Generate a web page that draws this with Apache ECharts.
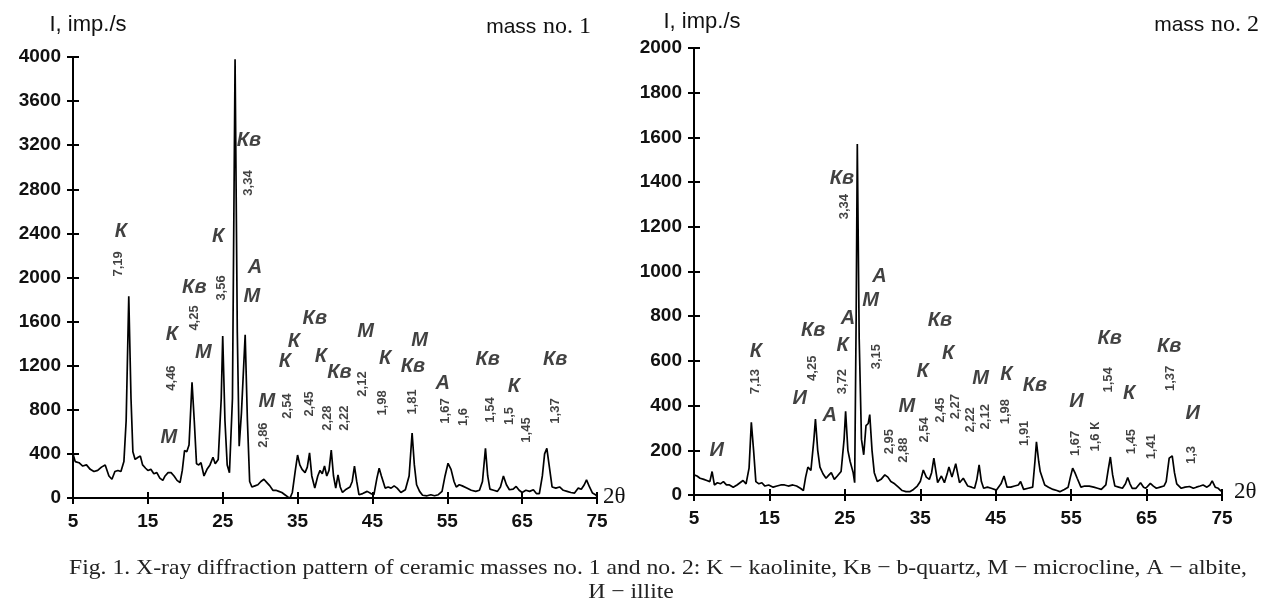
<!DOCTYPE html>
<html>
<head>
<meta charset="utf-8">
<script src="https://cdn.jsdelivr.net/npm/echarts@6/dist/echarts.min.js"></script>
<style>html,body{margin:0;padding:0;background:#fff;}#c{width:1262px;height:607px;}</style>
</head>
<body>
<div id="c"></div>
<script>
// ---- data ----
const xTicks = [5, 15, 25, 35, 45, 55, 65, 75];
const yTicks1 = [0, 400, 800, 1200, 1600, 2000, 2400, 2800, 3200, 3600, 4000];
const yTicks2 = [0, 200, 400, 600, 800, 1000, 1200, 1400, 1600, 1800, 2000];

const mass1 = [[5,400],[5.3,330],[5.8,320],[6.3,290],[6.8,300],[7.3,260],[7.8,240],[8.3,250],[8.8,280],[9.3,300],[9.8,200],[10.2,170],[10.6,240],[11.0,250],[11.4,240],[11.8,330],[12.1,700],[12.45,1830],[12.75,900],[13.0,420],[13.3,350],[13.7,370],[14.0,380],[14.3,300],[14.7,270],[15.0,250],[15.4,260],[15.8,220],[16.2,230],[16.6,180],[17.0,160],[17.3,200],[17.7,230],[18.1,230],[18.5,200],[18.9,160],[19.3,140],[19.6,250],[19.9,430],[20.2,420],[20.5,480],[20.9,1050],[21.2,700],[21.5,310],[21.8,300],[22.1,320],[22.5,200],[22.9,260],[23.3,300],[23.7,370],[24.0,310],[24.4,350],[24.8,900],[25.0,1470],[25.3,700],[25.6,300],[25.9,230],[26.3,900],[26.65,3980],[26.95,1500],[27.2,470],[27.5,770],[27.7,760],[28.0,1480],[28.3,700],[28.6,150],[28.9,100],[29.3,110],[29.7,120],[30.1,150],[30.5,170],[30.9,140],[31.3,110],[31.7,70],[32.1,70],[32.5,60],[32.9,50],[33.3,30],[33.7,10],[34.0,0],[34.3,50],[34.7,250],[35.0,390],[35.3,300],[35.6,260],[36.0,230],[36.3,280],[36.6,410],[36.9,200],[37.3,90],[37.7,200],[38.0,250],[38.3,220],[38.6,290],[38.9,200],[39.2,250],[39.5,435],[39.8,200],[40.1,90],[40.4,210],[40.7,100],[41.0,50],[41.5,80],[42.0,100],[42.3,150],[42.6,290],[42.9,150],[43.2,30],[43.7,40],[44.3,60],[44.8,40],[45.2,30],[45.6,180],[45.9,270],[46.2,200],[46.7,90],[47.1,100],[47.5,90],[47.9,110],[48.3,90],[48.8,50],[49.4,75],[49.9,200],[50.3,590],[50.6,300],[50.9,120],[51.3,60],[51.7,25],[52.3,20],[52.8,30],[53.3,20],[53.8,30],[54.3,60],[54.7,200],[55.1,315],[55.5,260],[55.9,150],[56.2,100],[56.6,120],[57.0,110],[57.6,90],[58.2,70],[58.8,60],[59.3,70],[59.7,150],[60.1,450],[60.4,200],[60.7,80],[61.2,70],[61.7,60],[62.1,100],[62.5,200],[62.9,120],[63.3,75],[63.8,80],[64.2,105],[64.6,70],[65.0,50],[65.5,70],[66.0,60],[66.5,75],[66.9,40],[67.3,40],[67.7,200],[68.0,400],[68.3,450],[68.6,300],[69.0,100],[69.5,90],[70.0,100],[70.5,70],[71.0,60],[71.5,50],[72.0,45],[72.5,90],[72.9,80],[73.3,120],[73.6,165],[74.0,100],[74.4,45],[74.8,30],[75,15]];

const mass2 = [[5,90],[5.4,85],[5.8,75],[6.3,70],[6.7,65],[7.1,60],[7.4,105],[7.7,45],[8.1,55],[8.5,50],[8.9,60],[9.3,45],[9.7,45],[10.2,35],[10.7,45],[11.1,55],[11.5,65],[11.9,50],[12.3,120],[12.6,325],[12.9,200],[13.2,60],[13.6,50],[14.0,55],[14.4,40],[14.9,45],[15.5,35],[16.0,40],[16.5,45],[17.0,45],[17.5,40],[18.1,45],[18.6,40],[19.1,30],[19.5,20],[19.8,80],[20.1,125],[20.5,110],[20.9,250],[21.1,340],[21.4,200],[21.7,125],[22.1,95],[22.5,75],[22.9,90],[23.2,100],[23.6,70],[24.0,85],[24.5,105],[24.9,250],[25.1,375],[25.4,200],[25.7,150],[26.1,100],[26.3,55],[26.5,800],[26.65,1570],[26.9,700],[27.2,250],[27.5,180],[27.8,310],[28.1,320],[28.3,360],[28.6,200],[28.9,100],[29.3,60],[29.8,70],[30.3,90],[30.7,80],[31.1,60],[31.6,50],[32.1,35],[32.6,20],[33.1,15],[33.6,15],[34.1,25],[34.6,40],[35.0,60],[35.4,112],[35.8,80],[36.2,70],[36.5,100],[36.8,165],[37.3,55],[37.8,85],[38.2,55],[38.6,100],[38.8,125],[39.2,80],[39.7,140],[40.2,55],[40.7,75],[41.3,40],[41.8,35],[42.2,30],[42.5,70],[42.8,135],[43.1,60],[43.4,30],[43.9,35],[44.4,30],[45.1,22],[45.7,50],[46.1,85],[46.5,35],[47.0,35],[47.5,40],[48.0,45],[48.3,60],[48.7,25],[49.3,30],[49.9,35],[50.2,150],[50.4,238],[50.7,150],[50.9,105],[51.5,45],[52.0,35],[52.6,25],[53.1,20],[53.5,15],[54.1,25],[54.6,35],[54.9,80],[55.2,120],[55.5,100],[55.8,75],[56.3,35],[56.8,40],[57.4,40],[58.0,35],[58.5,30],[59.0,25],[59.6,45],[59.9,110],[60.2,170],[60.5,90],[60.8,40],[61.3,35],[61.8,30],[62.2,50],[62.5,78],[62.8,50],[63.1,30],[63.6,30],[64.2,55],[64.6,35],[64.9,30],[65.5,52],[65.9,40],[66.3,30],[66.8,35],[67.3,40],[67.6,60],[68.0,165],[68.4,175],[68.7,100],[69.0,50],[69.6,30],[70.1,35],[70.7,38],[71.2,30],[71.6,35],[72.1,40],[72.5,45],[73.0,35],[73.4,45],[73.7,63],[74.1,35],[74.5,30],[74.8,20],[75,15]];

// phase annotations [2θ, intensity, text]
const phases1 = [[11.4,2420,'К'],[28.5,3240,'Кв'],[24.4,2370,'К'],[29.3,2095,'А'],[28.9,1830,'М'],[21.2,1905,'Кв'],[18.2,1480,'К'],[22.4,1324,'М'],[17.8,553,'М'],[30.9,871,'М'],[33.3,1234,'К'],[34.5,1424,'К'],[37.3,1624,'Кв'],[38.1,1288,'К'],[40.6,1134,'Кв'],[44.1,1506,'М'],[46.7,1261,'К'],[51.3,1433,'М'],[50.4,1197,'Кв'],[54.4,1043,'А'],[60.4,1252,'Кв'],[63.9,1007,'К'],[69.4,1252,'Кв']];
const dvals1 = [[11.1,2123,'7,19'],[28.5,2857,'3,34'],[24.8,1905,'3,56'],[21.2,1633,'4,25'],[18.1,1088,'4,46'],[30.5,571,'2,86'],[33.6,834,'2,54'],[36.6,853,'2,45'],[39.0,725,'2,28'],[41.2,725,'2,22'],[43.6,1034,'2,12'],[46.4,862,'1,98'],[50.4,871,'1,81'],[54.7,789,'1,67'],[57.1,735,'1,6'],[60.7,798,'1,54'],[63.3,744,'1,5'],[65.6,617,'1,45'],[69.5,789,'1,37']];
const phases2 = [[8.0,201,'И'],[13.2,641,'К'],[19.0,432,'И'],[20.8,738,'Кв'],[23.0,358,'А'],[25.4,790,'А'],[24.7,671,'К'],[29.6,977,'А'],[28.4,869,'М'],[24.6,1417,'Кв'],[33.2,395,'М'],[35.3,552,'К'],[37.6,783,'Кв'],[38.7,631,'К'],[43.0,522,'М'],[46.4,541,'К'],[50.2,492,'Кв'],[55.7,418,'И'],[60.1,701,'Кв'],[62.7,455,'К'],[68.0,664,'Кв'],[71.1,365,'И']];
const dvals2 = [[13.1,507,'7,13'],[20.7,567,'4,25'],[24.7,507,'3,72'],[29.2,619,'3,15'],[24.9,1290,'3,34'],[30.9,239,'2,95'],[32.7,201,'2,88'],[35.6,291,'2,54'],[37.7,380,'2,45'],[39.7,395,'2,27'],[41.6,336,'2,22'],[43.7,350,'2,12'],[46.3,373,'1,98'],[48.8,276,'1,91'],[55.6,231,'1,67'],[58.2,261,'1,6 К'],[60.0,515,'1,54'],[63.0,239,'1,45'],[65.6,216,'1,41'],[68.1,522,'1,37'],[70.9,179,'1,3']];

// ---- chart ----
const SANS = 'Liberation Sans, Arial, sans-serif';
const SERIF = 'Liberation Serif, Times New Roman, serif';
const grids = [
  {left: 73, top: 57, width: 524, height: 441},
  {left: 694, top: 48, width: 528, height: 447}
];
function xAx(gi, inside) {
  return {
    type: 'value', gridIndex: gi, min: xTicks[0], max: xTicks[xTicks.length - 1], interval: xTicks[1] - xTicks[0], position: 'bottom',
    axisLine: {show: !inside, onZero: false, lineStyle: {color: '#000', width: 2}},
    axisTick: {show: true, inside: inside, length: 6, lineStyle: {color: '#000', width: 2}},
    axisLabel: {show: !inside, margin: 14, color: '#111', fontFamily: SANS, fontWeight: 'bold', fontSize: 19,
      formatter: v => String(v)},
    splitLine: {show: false}
  };
}
function yAx(gi, ticks, inside) {
  return {
    type: 'value', gridIndex: gi, min: ticks[0], max: ticks[ticks.length - 1], interval: ticks[1] - ticks[0], position: 'left',
    axisLine: {show: !inside, onZero: false, lineStyle: {color: '#000', width: 2}},
    axisTick: {show: true, inside: inside, length: 6, lineStyle: {color: '#000', width: 2}},
    axisLabel: {show: !inside, margin: 12, color: '#111', fontFamily: SANS, fontWeight: 'bold', fontSize: 19,
      formatter: v => String(v)},
    splitLine: {show: false}
  };
}
function lineS(xi, yi, data) {
  return {type: 'line', xAxisIndex: xi, yAxisIndex: yi, data: data, showSymbol: false, symbol: 'none',
    lineStyle: {color: '#000', width: 1.7}, silent: true, animation: false};
}
function labelS(xi, yi, data, isD) {
  return {type: 'scatter', xAxisIndex: xi, yAxisIndex: yi, data: data, symbolSize: 1, clip: false,
    itemStyle: {color: 'rgba(0,0,0,0)'}, silent: true, animation: false,
    label: {show: true, position: 'inside', formatter: p => p.data[2], color: '#111',
      fontFamily: SANS, fontWeight: 'bold',
      fontStyle: isD ? 'normal' : 'italic', fontSize: isD ? 13 : 20, rotate: isD ? 90 : 0}};
}
const chart = echarts.init(document.getElementById('c'), null, {renderer: 'canvas'});
const massRich = {a: {fontFamily: SANS, fontSize: 21, fill: '#111'}, b: {fontFamily: SERIF, fontSize: 24, fill: '#111'}};
chart.setOption({
  backgroundColor: '#fff',
  animation: false,
  grid: grids,
  xAxis: [xAx(0, false), xAx(0, true), xAx(1, false), xAx(1, true)],
  yAxis: [yAx(0, yTicks1, false), yAx(0, yTicks1, true), yAx(1, yTicks2, false), yAx(1, yTicks2, true)],
  series: [
    lineS(0, 0, mass1), labelS(0, 0, phases1, false), labelS(0, 0, dvals1, true),
    lineS(2, 2, mass2), labelS(2, 2, phases2, false), labelS(2, 2, dvals2, true)
  ],
  graphic: [
    {type: 'text', x: 88, y: 25, style: {text: 'I, imp./s', font: '22px ' + SANS, fill: '#111', textAlign: 'center', textVerticalAlign: 'middle'}},
    {type: 'text', x: 702, y: 22, style: {text: 'I, imp./s', font: '22px ' + SANS, fill: '#111', textAlign: 'center', textVerticalAlign: 'middle'}},
    {type: 'text', x: 591, y: 27, style: {text: '{a|mass}  {b|no. 1}', textAlign: 'right', textVerticalAlign: 'middle', rich: massRich}},
    {type: 'text', x: 1259, y: 25, style: {text: '{a|mass}  {b|no. 2}', textAlign: 'right', textVerticalAlign: 'middle', rich: massRich}},
    {type: 'text', x: 603, y: 497, style: {text: '2θ', font: '23px ' + SERIF, fill: '#111', textAlign: 'left', textVerticalAlign: 'middle'}},
    {type: 'text', x: 1234, y: 492, style: {text: '2θ', font: '23px ' + SERIF, fill: '#111', textAlign: 'left', textVerticalAlign: 'middle'}},
    {type: 'text', x: 658, y: 568, scaleX: 1.1, style: {text: 'Fig. 1. X-ray diffraction pattern of ceramic masses no. 1 and no. 2: K − kaolinite, Kв − b-quartz, M − microcline, A − albite,', font: '21.5px ' + SERIF, fill: '#222', textAlign: 'center', textVerticalAlign: 'middle'}},
    {type: 'text', x: 631, y: 592, scaleX: 1.1, style: {text: 'И − illite', font: '21.5px ' + SERIF, fill: '#222', textAlign: 'center', textVerticalAlign: 'middle'}}
  ]
});
</script>
</body>
</html>
